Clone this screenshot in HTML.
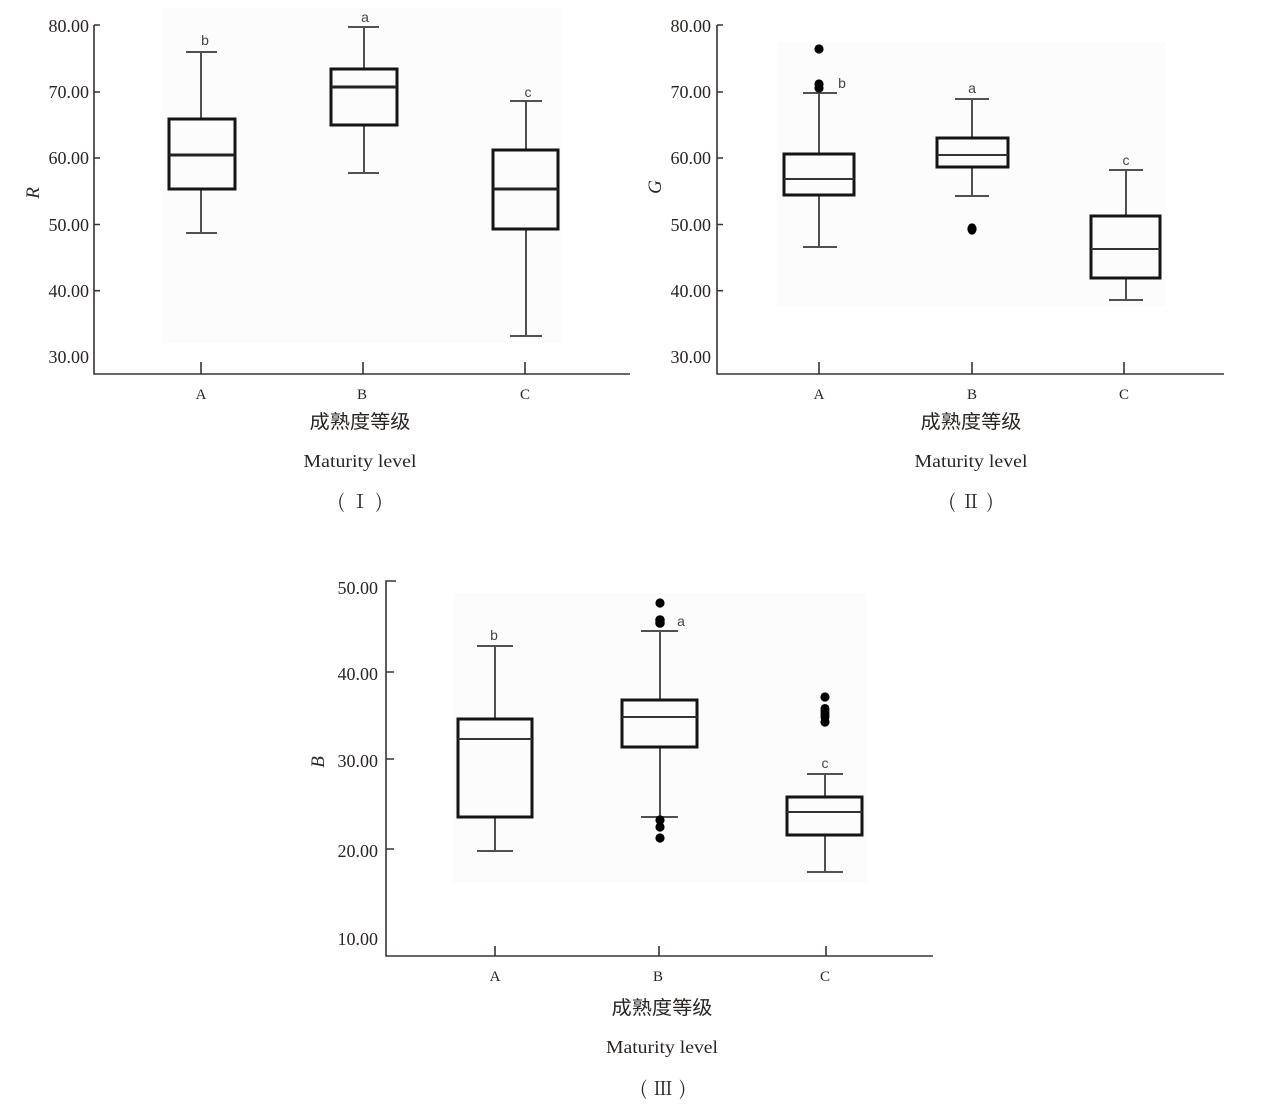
<!DOCTYPE html>
<html><head><meta charset="utf-8"><style>
html,body{margin:0;padding:0;background:#fff;}
svg{display:block;}
.tk{font-family:"Liberation Serif",serif;font-size:18px;fill:#2a2522;}
.cat{font-family:"Liberation Serif",serif;font-size:15px;fill:#2a2522;}
.cj{font-family:"Liberation Sans","Noto Sans CJK SC",sans-serif;font-size:19px;fill:#2a2522;}
.rn{font-family:"Noto Serif CJK SC","Liberation Serif",serif;font-size:19px;fill:#2a2522;}
.en{font-family:"Liberation Serif",serif;font-size:18px;fill:#2a2522;}
.yl{font-family:"Liberation Serif",serif;font-size:19px;font-style:italic;fill:#2a2522;}
.let{font-family:"Liberation Sans",sans-serif;font-size:14px;fill:#444;}
.ax{stroke:#3a3431;stroke-width:1.6;fill:none;}
.bx{stroke:#151515;stroke-width:3;fill:none;}
.wh{stroke:#505050;stroke-width:2;fill:none;}
.md{stroke:#222;stroke-width:3;}
.md2{stroke:#333;stroke-width:2;}
</style></head><body>
<svg width="1270" height="1106" viewBox="0 0 1270 1106" xmlns="http://www.w3.org/2000/svg">
<!-- ============ Panel I ============ -->
<rect x="163" y="8" width="399" height="335" fill="#fcfcfc"/>
<path class="ax" d="M94,25 L94,374 L630,374"/>
<path class="ax" d="M94,25 H100 M94,92 H100 M94,158 H100 M94,224.5 H100 M94,290.7 H100"/>
<g class="tk" text-anchor="end">
<text x="89" y="32">80.00</text>
<text x="89" y="98">70.00</text>
<text x="89" y="164">60.00</text>
<text x="89" y="231">50.00</text>
<text x="89" y="297">40.00</text>
<text x="89" y="363">30.00</text>
</g>
<text class="yl" transform="translate(39,193) rotate(-90)" text-anchor="middle">R</text>
<path class="ax" d="M201,362 V374 M363,362 V374 M525,362 V374"/>
<g class="cat" text-anchor="middle">
<text x="201" y="399">A</text><text x="362" y="399">B</text><text x="525" y="399">C</text>
</g>
<!-- A -->
<path class="wh" d="M201,52 V119 M186,52 H217 M201,189 V233 M186,233 H217"/>
<rect class="bx" x="169" y="119" width="66" height="70"/>
<line class="md" x1="169" y1="155" x2="235" y2="155"/>
<text class="let" x="205" y="45" text-anchor="middle">b</text>
<!-- B -->
<path class="wh" d="M364,27 V69 M348,27 H379 M364,125 V173 M348,173 H379"/>
<rect class="bx" x="331" y="69" width="66" height="56"/>
<line class="md" x1="331" y1="87" x2="397" y2="87"/>
<text class="let" x="365" y="22" text-anchor="middle">a</text>
<!-- C -->
<path class="wh" d="M526,101 V150 M510,101 H542 M526,229 V336 M510,336 H542"/>
<rect class="bx" x="493" y="150" width="65" height="79"/>
<line class="md" x1="493" y1="189" x2="558" y2="189"/>
<text class="let" x="528" y="97" text-anchor="middle">c</text>
<text class="cj" x="360" y="428" text-anchor="middle" textLength="101" lengthAdjust="spacingAndGlyphs">成熟度等级</text>
<text class="en" x="360" y="467" text-anchor="middle" textLength="113" lengthAdjust="spacingAndGlyphs">Maturity level</text>
<text class="rn" x="360" y="508" text-anchor="middle" textLength="45" lengthAdjust="spacing">(Ⅰ)</text>

<!-- ============ Panel II ============ -->
<rect x="777" y="42" width="388" height="264" fill="#fcfcfc"/>
<path class="ax" d="M717,25 L717,374 L1224,374"/>
<path class="ax" d="M717,25 H723 M717,92 H723 M717,158 H723 M717,224.5 H723 M717,290.7 H723"/>
<g class="tk" text-anchor="end">
<text x="711" y="32">80.00</text>
<text x="711" y="98">70.00</text>
<text x="711" y="164">60.00</text>
<text x="711" y="231">50.00</text>
<text x="711" y="297">40.00</text>
<text x="711" y="363">30.00</text>
</g>
<text class="yl" transform="translate(661,187) rotate(-90)" text-anchor="middle">G</text>
<path class="ax" d="M819,362 V374 M972,362 V374 M1124,362 V374"/>
<g class="cat" text-anchor="middle">
<text x="819" y="399">A</text><text x="972" y="399">B</text><text x="1124" y="399">C</text>
</g>
<!-- A -->
<path class="wh" d="M819,93 V154 M803,93 H837 M819,195 V247 M803,247 H837"/>
<rect class="bx" x="784" y="154" width="70" height="41"/>
<line class="md2" x1="784" y1="179" x2="854" y2="179"/>
<circle cx="819" cy="49" r="4.6" fill="#000"/>
<circle cx="819" cy="84" r="4.6" fill="#000"/>
<circle cx="819" cy="88" r="4.6" fill="#000"/>
<text class="let" x="842" y="88" text-anchor="middle">b</text>
<!-- B -->
<path class="wh" d="M972,99 V138 M955,99 H989 M972,167 V196 M955,196 H989"/>
<rect class="bx" x="937" y="138" width="71" height="29"/>
<line class="md2" x1="937" y1="155" x2="1008" y2="155"/>
<ellipse cx="972" cy="229" rx="4.6" ry="5.6" fill="#000"/>
<text class="let" x="972" y="93" text-anchor="middle">a</text>
<!-- C -->
<path class="wh" d="M1126,170 V216 M1109,170 H1143 M1126,278 V300 M1109,300 H1143"/>
<rect class="bx" x="1091" y="216" width="69" height="62"/>
<line class="md2" x1="1091" y1="249" x2="1160" y2="249"/>
<text class="let" x="1126" y="165" text-anchor="middle">c</text>
<text class="cj" x="971" y="428" text-anchor="middle" textLength="101" lengthAdjust="spacingAndGlyphs">成熟度等级</text>
<text class="en" x="971" y="467" text-anchor="middle" textLength="113" lengthAdjust="spacingAndGlyphs">Maturity level</text>
<text class="rn" x="971" y="508" text-anchor="middle" textLength="45" lengthAdjust="spacing">(Ⅱ)</text>

<!-- ============ Panel III ============ -->
<rect x="453" y="593" width="414" height="290" fill="#fcfcfc"/>
<path class="ax" d="M396,581 H386 V956 H933"/>
<path class="ax" d="M386,672 H394 M386,759 H394 M386,849 H394"/>
<g class="tk" text-anchor="end">
<text x="378" y="594">50.00</text>
<text x="378" y="680">40.00</text>
<text x="378" y="767">30.00</text>
<text x="378" y="857">20.00</text>
<text x="378" y="945">10.00</text>
</g>
<text class="yl" transform="translate(324,762) rotate(-90)" text-anchor="middle">B</text>
<path class="ax" d="M495,946 V956 M659,946 V956 M826,946 V956"/>
<g class="cat" text-anchor="middle">
<text x="495" y="981">A</text><text x="658" y="981">B</text><text x="825" y="981">C</text>
</g>
<!-- A -->
<path class="wh" d="M495,646 V719 M477,646 H513 M495,817 V851 M477,851 H513"/>
<rect class="bx" x="458" y="719" width="74" height="98"/>
<line class="md2" x1="458" y1="739" x2="532" y2="739"/>
<text class="let" x="494" y="640" text-anchor="middle">b</text>
<!-- B -->
<path class="wh" d="M660,631 V700 M641,631 H678 M660,747 V817 M641,817 H678"/>
<rect class="bx" x="622" y="700" width="75" height="47"/>
<line class="md2" x1="622" y1="717" x2="697" y2="717"/>
<circle cx="660" cy="603" r="4.6" fill="#000"/>
<circle cx="660" cy="620" r="4.8" fill="#000"/>
<circle cx="660" cy="623" r="4.8" fill="#000"/>
<circle cx="660" cy="820" r="4.6" fill="#000"/>
<circle cx="660" cy="827" r="4.6" fill="#000"/>
<circle cx="660" cy="838" r="4.6" fill="#000"/>
<text class="let" x="681" y="626" text-anchor="middle">a</text>
<!-- C -->
<path class="wh" d="M825,774 V797 M807,774 H843 M825,835 V872 M807,872 H843"/>
<rect class="bx" x="787" y="797" width="75" height="38"/>
<line class="md2" x1="787" y1="812" x2="862" y2="812"/>
<circle cx="825" cy="697" r="4.6" fill="#000"/>
<rect x="820.6" y="704" width="8.8" height="18" rx="4.4" fill="#000"/>
<circle cx="825" cy="722" r="4.6" fill="#000"/>
<text class="let" x="825" y="768" text-anchor="middle">c</text>
<text class="cj" x="662" y="1014" text-anchor="middle" textLength="101" lengthAdjust="spacingAndGlyphs">成熟度等级</text>
<text class="en" x="662" y="1053" text-anchor="middle" textLength="112" lengthAdjust="spacingAndGlyphs">Maturity level</text>
<text class="rn" x="663" y="1095" text-anchor="middle" textLength="46" lengthAdjust="spacing">(Ⅲ)</text>
</svg>
</body></html>
